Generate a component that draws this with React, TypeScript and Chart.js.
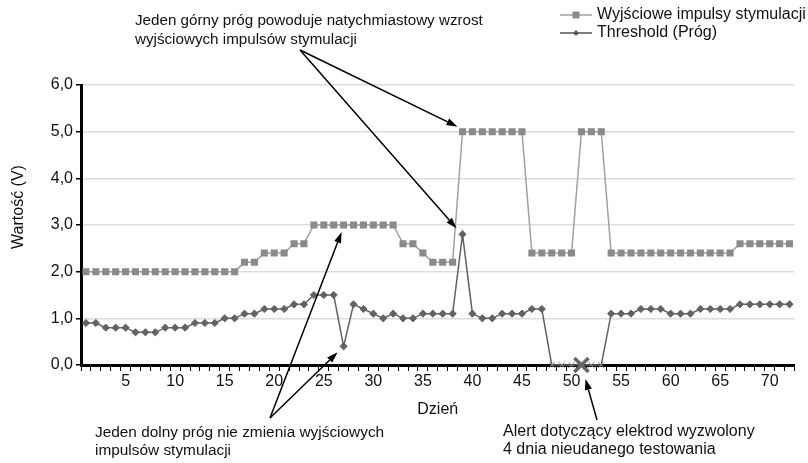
import React, { useEffect, useRef } from 'react';
import { Chart, registerables } from 'chart.js';

Chart.register(...registerables);

const days = [
  '1', '2', '3', '4', '5', '6', '7', '8', '9', '10', '11', '12', '13', '14', '15', '16', '17', '18',
  '19', '20', '21', '22', '23', '24', '25', '26', '27', '28', '29', '30', '31', '32', '33', '34', '35', '36',
  '37', '38', '39', '40', '41', '42', '43', '44', '45', '46', '47', '48', '49', '50', '51', '52', '53', '54',
  '55', '56', '57', '58', '59', '60', '61', '62', '63', '64', '65', '66', '67', '68', '69', '70', '71', '72',
];

const xTickLabels = ['5', '10', '15', '20', '25', '30', '35', '40', '45', '50', '55', '60', '65', '70'];
const yTickLabels = ['0,0', '1,0', '2,0', '3,0', '4,0', '5,0', '6,0'];

const outputPulses = [
  2.0, 2.0, 2.0, 2.0, 2.0, 2.0, 2.0, 2.0, 2.0, 2.0, 2.0, 2.0, 2.0, 2.0, 2.0, 2.0,
  2.2, 2.2, 2.4, 2.4, 2.4, 2.6, 2.6,
  3.0, 3.0, 3.0, 3.0, 3.0, 3.0, 3.0, 3.0, 3.0,
  2.6, 2.6, 2.4, 2.2, 2.2, 2.2,
  5.0, 5.0, 5.0, 5.0, 5.0, 5.0, 5.0,
  2.4, 2.4, 2.4, 2.4, 2.4,
  5.0, 5.0, 5.0,
  2.4, 2.4, 2.4, 2.4, 2.4, 2.4, 2.4, 2.4, 2.4, 2.4, 2.4, 2.4, 2.4,
  2.6, 2.6, 2.6, 2.6, 2.6, 2.6,
];

const thresholdValues = [
  0.9, 0.9, 0.8, 0.8, 0.8, 0.7, 0.7, 0.7, 0.8, 0.8, 0.8, 0.9, 0.9, 0.9, 1.0, 1.0,
  1.1, 1.1, 1.2, 1.2, 1.2, 1.3, 1.3, 1.5, 1.5, 1.5, 0.4, 1.3, 1.2, 1.1, 1.0, 1.1,
  1.0, 1.0, 1.1, 1.1, 1.1, 1.1, 2.8, 1.1, 1.0, 1.0, 1.1, 1.1, 1.1, 1.2, 1.2,
  0, 0, 0, 0, 0, 0,
  1.1, 1.1, 1.1, 1.2, 1.2, 1.2, 1.1, 1.1, 1.1, 1.2, 1.2, 1.2, 1.2,
  1.3, 1.3, 1.3, 1.3, 1.3, 1.3,
];

const failedTestDays = ['48', '49', '50', '51', '52', '53'];
const alertDay = '51';

const seriesNames = ['Wyjściowe impulsy stymulacji', 'Threshold (Próg)'];
const topNote = ['Jeden górny próg powoduje natychmiastowy wzrost', 'wyjściowych impulsów stymulacji'];
const bottomNote = ['Jeden dolny próg nie zmienia wyjściowych', 'impulsów stymulacji'];
const alertNote = ['Alert dotyczący elektrod wyzwolony', '4 dnia nieudanego testowania'];
const yTitle = 'Wartość (V)';
const xTitle = 'Dzień';

const FONT = '"Liberation Sans", Arial, Helvetica, sans-serif';
const FS = 16;
const OUT_LINE = '#a0a0a0';
const OUT_FILL = '#8a8a8a';
const THR_COLOR = '#626262';

function arrow(ctx: CanvasRenderingContext2D, x0: number, y0: number, x1: number, y1: number) {
  const ang = Math.atan2(y1 - y0, x1 - x0);
  const len = 11;
  const hw = 3.6;
  const bx = x1 - Math.cos(ang) * len;
  const by = y1 - Math.sin(ang) * len;
  ctx.beginPath();
  ctx.moveTo(x0, y0);
  ctx.lineTo(bx, by);
  ctx.strokeStyle = '#000';
  ctx.lineWidth = 1.5;
  ctx.stroke();
  ctx.beginPath();
  ctx.moveTo(x1, y1);
  ctx.lineTo(bx + Math.sin(ang) * hw, by - Math.cos(ang) * hw);
  ctx.lineTo(bx - Math.sin(ang) * hw, by + Math.cos(ang) * hw);
  ctx.closePath();
  ctx.fillStyle = '#000';
  ctx.fill();
}

const annotationPlugin = {
  id: 'annotations',
  afterDraw(chart: any) {
    const ctx: CanvasRenderingContext2D = chart.ctx;
    const xs = chart.scales.x;
    const ys = chart.scales.y;
    const px = (day: string, v: number): [number, number] => [
      xs.getPixelForValue(days.indexOf(day)),
      ys.getPixelForValue(v),
    ];
    ctx.save();
    ctx.fillStyle = '#111';
    ctx.textAlign = 'left';
    ctx.textBaseline = 'alphabetic';

    // notes
    ctx.font = `15.2px ${FONT}`;
    ctx.fillText(topNote[0], 135, 25);
    ctx.fillText(topNote[1], 135, 44);
    ctx.font = `15.4px ${FONT}`;
    ctx.fillText(bottomNote[0], 95, 437);
    ctx.fillText(bottomNote[1], 95, 455);
    ctx.font = `${FS}px ${FONT}`;
    ctx.fillText(alertNote[0], 503, 436);
    ctx.fillText(alertNote[1], 503, 454);

    // arrows
    const i39 = days.indexOf('39');
    const i27 = days.indexOf('27');
    const [ax1, ay1] = px('39', outputPulses[i39]);
    const [ax2, ay2] = px('39', thresholdValues[i39]);
    arrow(ctx, 300, 50, ax1 - 5, ay1 - 5);
    arrow(ctx, 300, 50, ax2 - 6, ay2 - 6);
    const [bx1, by1] = px('27', outputPulses[i27]);
    const [bx2, by2] = px('27', thresholdValues[i27]);
    arrow(ctx, 270, 418, bx1 - 2, by1 + 7);
    arrow(ctx, 270, 418, bx2 - 6, by2 + 6);
    const [cx, cy] = px(alertDay, 0);
    arrow(ctx, 597, 420, cx + 4, cy + 14);

    // axis titles
    ctx.fillStyle = '#111';
    ctx.textAlign = 'center';
    ctx.textBaseline = 'middle';
    ctx.fillText(xTitle, (chart.chartArea.left + chart.chartArea.right) / 2, 410);
    ctx.save();
    ctx.translate(19, 207);
    ctx.rotate(-Math.PI / 2);
    ctx.fillText(yTitle, 0, 0);
    ctx.restore();

    // legend
    ctx.textAlign = 'left';
    ctx.textBaseline = 'middle';
    ctx.beginPath();
    ctx.moveTo(560, 15);
    ctx.lineTo(592, 15);
    ctx.strokeStyle = OUT_LINE;
    ctx.lineWidth = 1.5;
    ctx.stroke();
    ctx.fillStyle = OUT_FILL;
    ctx.fillRect(576 - 3.5, 15 - 3.5, 7, 7);
    ctx.beginPath();
    ctx.moveTo(560, 33);
    ctx.lineTo(592, 33);
    ctx.strokeStyle = '#555';
    ctx.stroke();
    ctx.beginPath();
    ctx.moveTo(576, 30);
    ctx.lineTo(579, 33);
    ctx.lineTo(576, 36);
    ctx.lineTo(573, 33);
    ctx.closePath();
    ctx.fillStyle = '#555';
    ctx.fill();
    ctx.fillStyle = '#111';
    ctx.fillText(seriesNames[0], 597, 15);
    ctx.fillText(seriesNames[1], 597, 33);
    ctx.restore();
  },
};

export default function App() {
  const ref = useRef<HTMLCanvasElement | null>(null);

  useEffect(() => {
    document.body.style.margin = '0';
    if (!ref.current) return;
    Chart.defaults.font.family = FONT;
    Chart.defaults.font.size = FS;
    Chart.defaults.color = '#111';

    const isFailed = (i: number) => failedTestDays.includes(days[i]);

    const chart = new Chart(ref.current, {
      type: 'line',
      data: {
        labels: days,
        datasets: [
          {
            label: 'alert',
            data: [{ x: alertDay, y: 0 }] as any,
            showLine: false,
            pointStyle: 'crossRot',
            pointRadius: 10,
            borderColor: '#666',
            backgroundColor: '#666',
            pointBorderWidth: 3.5,
            clip: false as any,
            order: 0,
          },
          {
            label: seriesNames[1],
            data: thresholdValues,
            borderColor: THR_COLOR,
            backgroundColor: THR_COLOR,
            borderWidth: 1.5,
            pointStyle: thresholdValues.map((_, i) => (isFailed(i) ? 'crossRot' : 'rectRot')) as any,
            pointRadius: thresholdValues.map((_, i) => (isFailed(i) ? 4.5 : 3.6)),
            pointBorderColor: thresholdValues.map((_, i) => (isFailed(i) ? '#8c8c8c' : THR_COLOR)),
            pointBackgroundColor: THR_COLOR,
            pointBorderWidth: 1,
            clip: false as any,
            order: 1,
          },
          {
            label: seriesNames[0],
            data: outputPulses,
            borderColor: OUT_LINE,
            backgroundColor: OUT_FILL,
            borderWidth: 1.5,
            pointStyle: 'rect',
            pointRadius: 5,
            pointBorderWidth: 0,
            pointBackgroundColor: OUT_FILL,
            pointBorderColor: OUT_FILL,
            order: 2,
          },
        ],
      },
      options: {
        animation: false,
        responsive: true,
        maintainAspectRatio: false,
        layout: { padding: { top: 85, right: 11, left: 0, bottom: 0 } },
        plugins: {
          legend: { display: false },
          tooltip: { enabled: false },
        },
        scales: {
          x: {
            type: 'category',
            offset: true,
            grid: {
              offset: true,
              drawOnChartArea: false,
              drawTicks: true,
              tickLength: 6,
              tickColor: '#000',
              lineWidth: 1,
            },
            border: { color: '#000', width: 3 },
            ticks: {
              autoSkip: false,
              maxRotation: 0,
              padding: 1,
              color: '#111',
              font: { size: FS },
              callback: (_v: any, i: number) => (xTickLabels.includes(days[i]) ? days[i] : ''),
            },
            afterFit: (s: any) => {
              s.height = 98;
            },
          },
          y: {
            min: 0,
            max: 6,
            grid: {
              color: (c: any) => (c.tick && c.tick.value === 0 ? 'rgba(0,0,0,0)' : '#dcdcdc'),
              lineWidth: 1.5,
              drawTicks: true,
              tickLength: 5,
              tickColor: '#000',
            },
            border: { color: '#000', width: 3 },
            ticks: {
              stepSize: 1,
              padding: 3,
              color: '#111',
              font: { size: FS },
              callback: (v: any) => yTickLabels[Math.round(Number(v))] ?? '',
            },
            afterFit: (s: any) => {
              s.width = 81;
            },
          },
        },
      },
      plugins: [annotationPlugin],
    });
    return () => chart.destroy();
  }, []);

  return (
    <div style={{ position: 'relative', width: 808, height: 463 }}>
      <canvas ref={ref} />
    </div>
  );
}
